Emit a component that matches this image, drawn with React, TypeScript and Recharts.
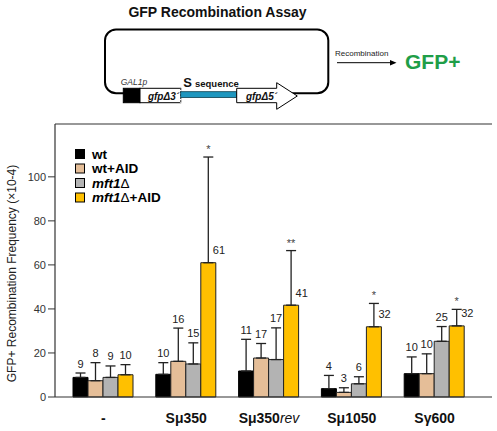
import React from 'react';
import { BarChart, Bar, XAxis, YAxis, ErrorBar, LabelList, Legend, ReferenceLine } from 'recharts';

const categories = ['-', 'Sμ350', 'Sμ350rev', 'Sμ1050', 'Sγ600'];
const seriesNames = ['wt', 'wt+AID', 'mft1Δ', 'mft1Δ+AID'];
const seriesColors = ['#000000', '#E5BE98', '#B3B3B3', '#FFC000'];

const wt = [8.9, 10.3, 11.8, 3.8, 10.6];
const wtErr = [2.0, 5.3, 14.4, 6.0, 7.6];
const wtLabels = ['9', '10', '11', '4', '10'];

const wtAid = [7.4, 16.2, 17.7, 2.1, 10.6];
const wtAidErr = [8.2, 15.1, 6.6, 2.1, 9.0];
const wtAidLabels = ['8', '16', '17', '3', '10'];

const mft1 = [8.9, 15.0, 17.0, 6.0, 25.3];
const mft1Err = [5.2, 9.6, 14.4, 3.2, 6.7];
const mft1Labels = ['9', '15', '17', '6', '25'];

const mft1Aid = [10.1, 61.0, 41.7, 31.9, 32.3];
const mft1AidErr = [4.6, 48.0, 24.8, 10.6, 7.5];
const mft1AidLabels = ['10', '61', '41', '32', '32'];

const significance = ['', '*', '**', '*', '*'];
const yTicks = [0, 20, 40, 60, 80, 100];
const yDomain = [0, 124];

const data = categories.map((cat, i) => ({
  cat,
  wt: wt[i],
  wtErr: [0, wtErr[i]],
  wtAid: wtAid[i],
  wtAidErr: [0, wtAidErr[i]],
  mft1: mft1[i],
  mft1Err: [0, mft1Err[i]],
  mft1Aid: mft1Aid[i],
  mft1AidErr: [0, mft1AidErr[i]],
}));

const FONT = 'Liberation Sans, Arial, Helvetica, sans-serif';

const makeLabel = (errs: number[], labels: string[], isLast: boolean) => (props: any) => {
  const x = Number(props.x);
  const y = Number(props.y);
  const width = Number(props.width);
  const height = Number(props.height);
  const value = Number(props.value);
  const index = props.index as number;
  const ppu = value > 0 ? height / value : 0;
  const cx = x + width / 2;
  const capY = y - errs[index] * ppu;
  if (isLast && significance[index]) {
    return (
      <g>
        <text x={cx + 4.5} y={y - 8.5} fontSize={11} fill="#222" textAnchor="start">
          {labels[index]}
        </text>
        <text x={cx} y={capY - 4} fontSize={11} fill="#444" textAnchor="middle">
          {significance[index]}
        </text>
      </g>
    );
  }
  return (
    <text x={cx} y={capY - 5.5} fontSize={11} fill="#222" textAnchor="middle">
      {labels[index]}
    </text>
  );
};

const CatTick = (props: any) => {
  const { x, y, payload } = props;
  const v: string = payload.value;
  const base = Number(y) + 26;
  if (v.endsWith('rev')) {
    return (
      <text x={x} y={base} textAnchor="middle" fontSize={14} fill="#111" fontFamily={FONT}>
        <tspan fontWeight="bold">{v.slice(0, -3)}</tspan>
        <tspan fontStyle="italic">rev</tspan>
      </text>
    );
  }
  return (
    <text x={x} y={base} textAnchor="middle" fontSize={14} fontWeight="bold" fill="#111" fontFamily={FONT}>
      {v}
    </text>
  );
};

const renderName = (name: string) => {
  if (name.startsWith('mft1')) {
    const rest = name.slice(5);
    return (
      <>
        <tspan fontStyle="italic" fontWeight="bold">mft1</tspan>
        <tspan fontWeight="normal">Δ</tspan>
        {rest ? <tspan fontWeight="bold">{rest}</tspan> : null}
      </>
    );
  }
  return <tspan fontWeight="bold">{name}</tspan>;
};

const LegendContent = () => (
  <svg width={120} height={62} style={{ display: 'block', fontFamily: FONT }}>
    {seriesNames.map((n, i) => (
      <g key={n}>
        <rect x={0.5} y={4.5 + i * 14.5} width={9} height={9} fill={seriesColors[i]} stroke="#000" strokeWidth={1} />
        <text x={17} y={13.8 + i * 14.5} fontSize={13.5} fill="#000">
          {renderName(n)}
        </text>
      </g>
    ))}
  </svg>
);

const YLabel = (props: any) => {
  const vb = props.viewBox || {};
  const cx = 12;
  const cy = Number(vb.y) + Number(vb.height) / 2 + 13;
  return (
    <text
      x={cx}
      y={cy}
      transform={`rotate(-90 ${cx} ${cy})`}
      textAnchor="middle"
      dominantBaseline="central"
      fontSize={12}
      fill="#222"
    >
      GFP+ Recombination Frequency (×10-4)
    </text>
  );
};

const Diagram = () => (
  <svg
    width={497}
    height={431}
    style={{ position: 'absolute', left: 0, top: 0, pointerEvents: 'none', fontFamily: FONT }}
  >
    <text x={217.5} y={17} textAnchor="middle" fontSize={14} fontWeight="bold" fill="#111">
      GFP Recombination Assay
    </text>
    <rect x={105} y={29.5} width={223.3} height={63.8} rx={11} ry={11} fill="none" stroke="#000" strokeWidth={2} />
    <rect x={123.3} y={88.3} width={16.7} height={14.4} fill="#000" stroke="#000" />
    <rect x={140} y={88.3} width={40.7} height={14.4} fill="#fff" stroke="#000" strokeWidth={1} />
    <line x1={180.7} y1={88.3} x2={180.7} y2={102.7} stroke="#fff" strokeWidth={1.5} />
    <line x1={180.7} y1={88.3} x2={180.7} y2={102.7} stroke="#000" strokeWidth={1} strokeDasharray="1.5 1.5" />
    <rect x={180.7} y={91.7} width={56} height={5.8} fill="#1E96BE" stroke="#0b3d4d" strokeWidth={0.8} />
    <polygon
      points="236.7,88.3 276.7,88.3 276.7,82.7 297.3,96 276.7,109.3 276.7,102.7 236.7,102.7"
      fill="#fff"
      stroke="#000"
      strokeWidth={1}
    />
    <text x={120.7} y={85.3} fontSize={8.5} fontStyle="italic" fill="#333">GAL1p</text>
    <text x={183.3} y={87} fontSize={13} fontWeight="bold" fill="#111">
      S<tspan fontSize={9.5} dx={3}>sequence</tspan>
    </text>
    <text x={163.5} y={99.5} fontSize={10} fontWeight="bold" fontStyle="italic" textAnchor="middle" fill="#111">
      gfpΔ3´
    </text>
    <text x={261.5} y={99.5} fontSize={10} fontWeight="bold" fontStyle="italic" textAnchor="middle" fill="#111">
      gfpΔ5´
    </text>
    <text x={335} y={56} fontSize={8} fill="#222">Recombination</text>
    <line x1={337} y1={62.7} x2={392} y2={62.7} stroke="#000" strokeWidth={1} />
    <polygon points="396.5,62.7 390,60 390,65.4" fill="#000" />
    <text x={405} y={68.5} fontSize={21} fontWeight="bold" fill="#1F9E48">GFP+</text>
  </svg>
);

export default function App() {
  return (
    <div style={{ position: 'absolute', left: 0, top: 0, width: 497, height: 431, background: '#fff', fontFamily: FONT }}>
      <BarChart
        width={497}
        height={431}
        data={data}
        margin={{ top: 124, right: 5, bottom: 0, left: 0 }}
        barGap={0}
        barSize={15}
        style={{ fontFamily: FONT }}
      >
        <XAxis
          dataKey="cat"
          height={34}
          padding={{ left: 7, right: 16 }}
          tickLine={false}
          tickSize={0}
          tickMargin={0}
          interval={0}
          axisLine={{ stroke: '#333', strokeWidth: 1.2 }}
          tick={<CatTick />}
        />
        <YAxis
          width={55}
          domain={yDomain}
          ticks={yTicks}
          tickSize={7}
          tickMargin={2}
          axisLine={{ stroke: '#333', strokeWidth: 1.2 }}
          tickLine={{ stroke: '#333' }}
          tick={{ fontSize: 11, fill: '#333' }}
          label={<YLabel />}
        />
        <YAxis
          yAxisId="right"
          orientation="right"
          width={0}
          domain={yDomain}
          tick={false}
          tickLine={false}
          axisLine={{ stroke: '#333', strokeWidth: 1.2 }}
        />
        <ReferenceLine y={yDomain[1]} stroke="#333" strokeWidth={1.2} />
        <Legend
          layout="vertical"
          align="center"
          verticalAlign="middle"
          content={<LegendContent />}
          wrapperStyle={{ left: 75, top: 145, width: 120, height: 62 }}
        />
        <Bar dataKey="wt" name={seriesNames[0]} fill={seriesColors[0]} stroke="#000" strokeWidth={1} isAnimationActive={false}>
          <ErrorBar dataKey="wtErr" width={5} stroke="#222" strokeWidth={1.3} direction="y" />
          <LabelList dataKey="wt" content={makeLabel(wtErr, wtLabels, false)} />
        </Bar>
        <Bar dataKey="wtAid" name={seriesNames[1]} fill={seriesColors[1]} stroke="#222" strokeWidth={1} isAnimationActive={false}>
          <ErrorBar dataKey="wtAidErr" width={5} stroke="#222" strokeWidth={1.3} direction="y" />
          <LabelList dataKey="wtAid" content={makeLabel(wtAidErr, wtAidLabels, false)} />
        </Bar>
        <Bar dataKey="mft1" name={seriesNames[2]} fill={seriesColors[2]} stroke="#222" strokeWidth={1} isAnimationActive={false}>
          <ErrorBar dataKey="mft1Err" width={5} stroke="#222" strokeWidth={1.3} direction="y" />
          <LabelList dataKey="mft1" content={makeLabel(mft1Err, mft1Labels, false)} />
        </Bar>
        <Bar dataKey="mft1Aid" name={seriesNames[3]} fill={seriesColors[3]} stroke="#222" strokeWidth={1} isAnimationActive={false}>
          <ErrorBar dataKey="mft1AidErr" width={5} stroke="#222" strokeWidth={1.3} direction="y" />
          <LabelList dataKey="mft1Aid" content={makeLabel(mft1AidErr, mft1AidLabels, true)} />
        </Bar>
      </BarChart>
      <Diagram />
    </div>
  );
}
